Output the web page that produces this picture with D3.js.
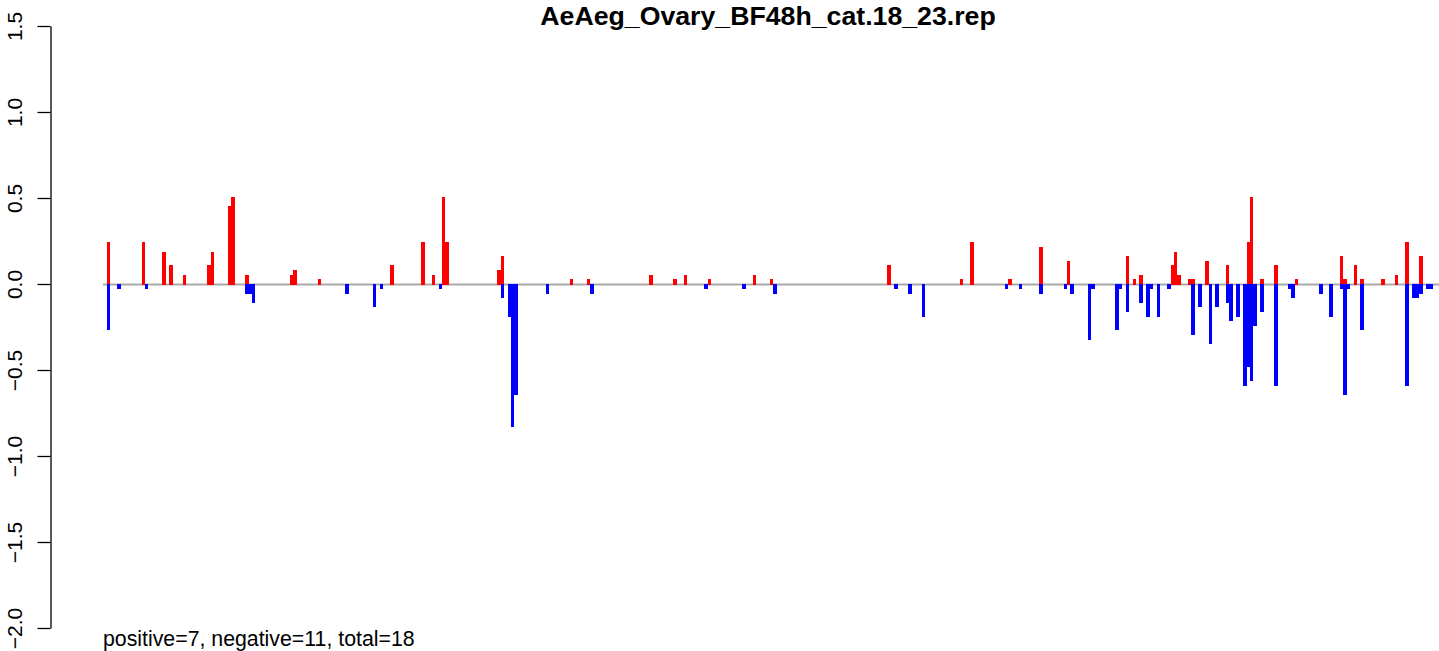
<!DOCTYPE html>
<html>
<head>
<meta charset="utf-8">
<script src="https://cdn.jsdelivr.net/npm/d3@7"></script>
<style>
  html, body { margin: 0; padding: 0; background: #ffffff; }
  svg { display: block; font-family: "Liberation Sans", Arial, sans-serif; }
</style>
</head>
<body>
<svg id="chart" width="1439" height="651"></svg>
<script>
// Per-bin read profile: bin index, plus-strand (red) and minus-strand (blue) values
const binCount = 384;
const plusBins = [0, 10, 16, 18, 22, 29, 30, 35, 36, 40, 53, 54, 61, 82, 91, 94, 97, 98,
  113, 114, 134, 139, 157, 164, 167, 174, 187, 192, 226, 247, 250, 261, 270, 278,
  295, 297, 299, 308, 309, 310, 313, 314, 318, 324, 330, 331, 334, 338, 344, 357,
  358, 361, 363, 369, 373, 376, 380];
const plusValues = [0.244, 0.244, 0.186, 0.11, 0.052, 0.11, 0.186, 0.453, 0.506, 0.052, 0.052, 0.081, 0.029, 0.11, 0.244, 0.052, 0.506, 0.244,
  0.081, 0.163, 0.029, 0.029, 0.052, 0.029, 0.052, 0.029, 0.052, 0.029, 0.11, 0.029, 0.244, 0.029, 0.215, 0.134,
  0.163, 0.029, 0.052, 0.11, 0.186, 0.052, 0.029, 0.029, 0.134, 0.11, 0.244, 0.506, 0.029, 0.11, 0.029, 0.163,
  0.029, 0.11, 0.029, 0.029, 0.052, 0.244, 0.163];
const minusBins = [0, 3, 11, 40, 41, 42, 69, 77, 79, 96, 114, 116, 117, 118, 127, 140, 173,
  184, 193, 228, 232, 236, 260, 264, 270, 277, 279, 284, 285, 292, 293, 295, 299,
  301, 302, 304, 307, 314, 316, 319, 321, 324, 325, 327, 329, 330, 331, 332, 334,
  338, 342, 343, 351, 354, 357, 358, 359, 363, 376, 378, 379, 380, 382, 383];
const minusValues = [-0.267, -0.027, -0.027, -0.056, -0.056, -0.109, -0.056, -0.132, -0.027, -0.027, -0.079, -0.19, -0.829, -0.643, -0.056, -0.056, -0.027,
  -0.027, -0.056, -0.027, -0.056, -0.19, -0.027, -0.027, -0.056, -0.027, -0.056, -0.324, -0.027, -0.265, -0.027, -0.161, -0.109,
  -0.19, -0.027, -0.19, -0.027, -0.295, -0.132, -0.347, -0.132, -0.109, -0.213, -0.19, -0.591, -0.481, -0.562, -0.242, -0.161,
  -0.591, -0.027, -0.079, -0.056, -0.19, -0.027, -0.643, -0.027, -0.265, -0.591, -0.079, -0.079, -0.056, -0.027, -0.027];
const yTicks = [-2.0, -1.5, -1.0, -0.5, 0.0, 0.5, 1.0, 1.5];
const titleText = "AeAeg_Ovary_BF48h_cat.18_23.rep";
const summaryText = "positive=7, negative=11, total=18";

const svg = d3.select("#chart");

const x = d3.scaleLinear().domain([0, binCount]).range([107, 1433]);
const y = d3.scaleLinear().domain([-2, 1.5]).range([628, 26]);

// baseline at zero
svg.append("line")
  .attr("x1", x(0) - 4).attr("x2", 1439)
  .attr("y1", y(0) + 0.5).attr("y2", y(0) + 0.5)
  .attr("stroke", "#a9a9a9").attr("stroke-width", 2);

const plus = plusBins.map((b, i) => ({ bin: b, v: plusValues[i] }));
const minus = minusBins.map((b, i) => ({ bin: b, v: minusValues[i] }));

svg.append("g").attr("shape-rendering", "crispEdges")
  .selectAll("rect").data(plus).join("rect")
  .attr("x", d => x(d.bin))
  .attr("width", d => x(d.bin + 1) - x(d.bin))
  .attr("y", d => y(d.v))
  .attr("height", d => y(0) + 1 - y(d.v))
  .attr("fill", "#ff0000");

svg.append("g").attr("shape-rendering", "crispEdges")
  .selectAll("rect").data(minus).join("rect")
  .attr("x", d => x(d.bin))
  .attr("width", d => x(d.bin + 1) - x(d.bin))
  .attr("y", y(0))
  .attr("height", d => y(d.v) - y(0))
  .attr("fill", "#0000ff");

// y axis with vertical tick labels
const yAxis = d3.axisLeft(y)
  .tickValues(yTicks)
  .tickFormat(d3.format(".1f"))
  .tickSize(13)
  .tickSizeOuter(0);

const ag = svg.append("g")
  .attr("transform", "translate(50.5,0)")
  .call(yAxis);
ag.select(".domain").attr("stroke", "#000").attr("stroke-width", 1.3);
ag.selectAll(".tick line").attr("stroke", "#000").attr("stroke-width", 1.3);
ag.selectAll(".tick text")
  .attr("font-size", 21)
  .attr("font-family", "Liberation Sans, Arial, sans-serif")
  .attr("fill", "#000")
  .attr("text-anchor", "middle")
  .attr("dy", null)
  .attr("x", null)
  .attr("transform", "translate(-28.5,0) rotate(-90)");

// title
svg.append("text")
  .attr("x", 768).attr("y", 25)
  .attr("text-anchor", "middle")
  .attr("font-size", 26.7)
  .attr("font-weight", "bold")
  .text(titleText);

// summary line
svg.append("text")
  .attr("x", 103).attr("y", 646)
  .attr("font-size", 21.3)
  .text(summaryText);
</script>
</body>
</html>
